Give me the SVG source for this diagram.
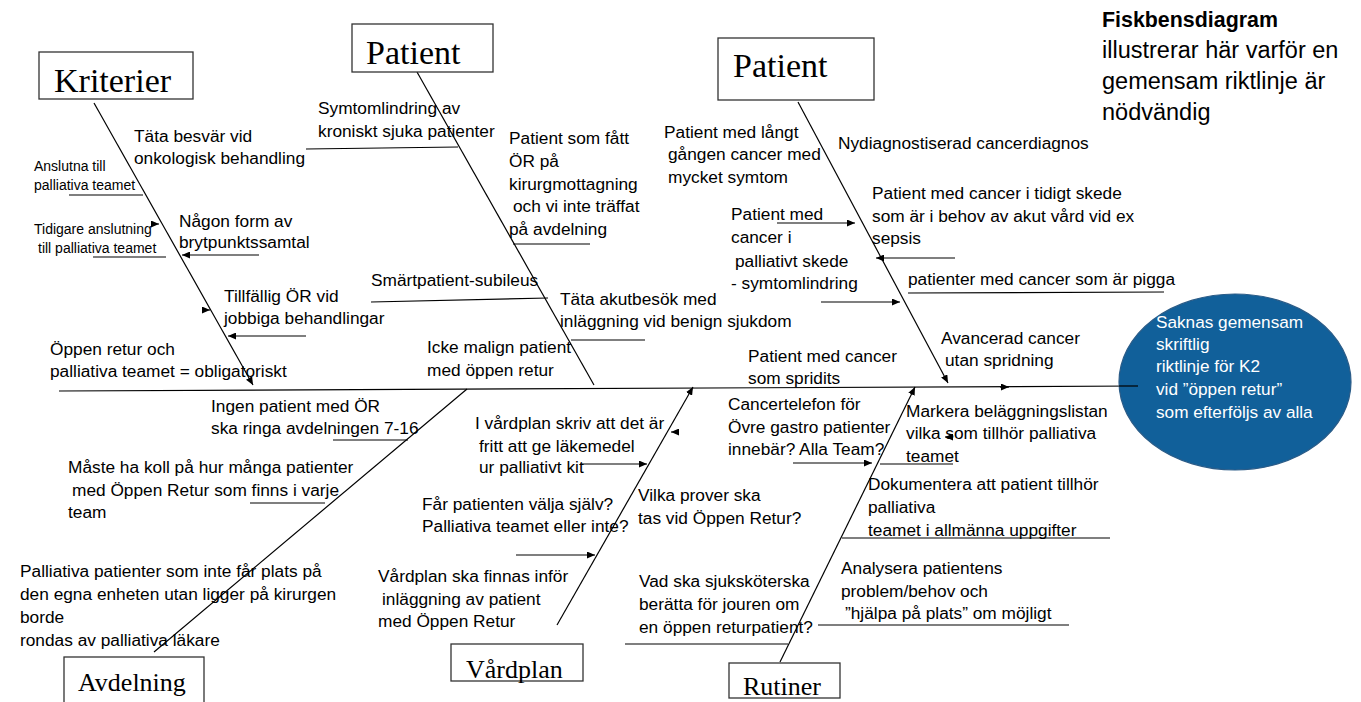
<svg xmlns="http://www.w3.org/2000/svg" width="1361" height="702" viewBox="0 0 1361 702">
<defs>
<marker id="ah" markerUnits="userSpaceOnUse" markerWidth="8" markerHeight="7" refX="8" refY="3.5" orient="auto">
<path d="M0,0 L8,3.5 L0,7 z" fill="#000"/>
</marker>
<style>
.t{font-family:"Liberation Sans",Arial,sans-serif;font-size:17.3px;fill:#000}
.s{font-family:"Liberation Sans",Arial,sans-serif;font-size:14px;fill:#000}
.w{font-family:"Liberation Sans",Arial,sans-serif;font-size:17.2px;fill:#fff}
.h{font-family:"Liberation Sans",Arial,sans-serif;font-size:23.5px;fill:#000}
.hb{font-family:"Liberation Sans",Arial,sans-serif;font-size:21.4px;font-weight:bold;fill:#000}
.b{font-family:"Liberation Serif","Times New Roman",serif;fill:#000}
.box{fill:#fff;stroke:#333;stroke-width:1.3}
.ln{stroke:#000;stroke-width:1.2;fill:none}
.ar{stroke:#000;stroke-width:1.2;fill:none;marker-end:url(#ah)}
</style>
</defs>
<rect width="1361" height="702" fill="#fff"/>

<g id="connectors">
<line class="ln" x1="59" y1="391" x2="1138" y2="386"/>
<line class="ar" x1="1000" y1="387" x2="1009" y2="387"/>
<line class="ar" x1="94" y1="103" x2="253" y2="385"/>
<line class="ln" x1="417" y1="72" x2="594" y2="385"/>
<line class="ar" x1="798" y1="102" x2="948" y2="383"/>
<line class="ln" x1="154" y1="652" x2="467" y2="389"/>
<line class="ar" x1="557" y1="625" x2="693" y2="387"/>
<line class="ar" x1="780" y1="662" x2="915" y2="387"/>
<line class="ln" x1="306" y1="149" x2="458" y2="147"/>
<line class="ln" x1="69" y1="195" x2="143" y2="195"/>
<line class="ln" x1="93" y1="257" x2="166" y2="257"/>
<line class="ar" x1="259" y1="255" x2="182" y2="255"/>
<line class="ar" x1="306" y1="336" x2="228" y2="336"/>
<line class="ar" x1="157" y1="224" x2="159" y2="224"/>
<line class="ar" x1="208" y1="310" x2="210" y2="310"/>
<line class="ln" x1="371" y1="302" x2="548" y2="298"/>
<line class="ln" x1="513" y1="244" x2="590" y2="244"/>
<line class="ln" x1="571" y1="340" x2="645" y2="340"/>
<line class="ar" x1="777" y1="223" x2="855" y2="223"/>
<line class="ar" x1="955" y1="258" x2="876" y2="258"/>
<line class="ln" x1="908" y1="293" x2="1164" y2="292"/>
<line class="ar" x1="821" y1="302" x2="900" y2="302"/>
<line class="ln" x1="333" y1="440" x2="408" y2="440"/>
<line class="ln" x1="250" y1="503" x2="325" y2="503"/>
<line class="ar" x1="580" y1="464" x2="647" y2="464"/>
<line class="ar" x1="673" y1="432" x2="671" y2="432"/>
<line class="ar" x1="516" y1="555" x2="595" y2="555"/>
<line class="ar" x1="793" y1="463" x2="872" y2="463"/>
<line class="ln" x1="880" y1="464" x2="953" y2="464"/>
<line class="ar" x1="947" y1="437" x2="945" y2="437"/>
<line class="ln" x1="842" y1="538" x2="1110" y2="538"/>
<line class="ln" x1="625" y1="644" x2="788" y2="644"/>
<line class="ln" x1="818" y1="625" x2="1069" y2="625"/>
</g>

<g id="effect">
<ellipse cx="1235" cy="382" rx="116" ry="88" fill="#11609A" stroke="#2B5C88" stroke-width="1.2"/>
<line class="ln" x1="1119" y1="386" x2="1138" y2="386"/>
<text class="w" x="1156" y="328">Saknas gemensam</text>
<text class="w" x="1156" y="350">skriftlig</text>
<text class="w" x="1156" y="372">riktlinje för K2</text>
<text class="w" x="1156" y="395">vid ”öppen retur”</text>
<text class="w" x="1156" y="418">som efterföljs av alla</text>
</g>

<g id="title">
<text class="hb" x="1102" y="27">Fiskbensdiagram</text>
<text class="h" x="1102" y="58">illustrerar här varför en</text>
<text class="h" x="1102" y="89">gemensam riktlinje är</text>
<text class="h" x="1102" y="120">nödvändig</text>
</g>

<g id="kriterier">
<rect class="box" x="39" y="52" width="154" height="47"/>
<text class="b" x="54" y="92" font-size="34">Kriterier</text>
</g>
<g id="patient1">
<rect class="box" x="352" y="24" width="141" height="48"/>
<text class="b" x="366" y="64" font-size="34">Patient</text>
</g>
<g id="patient2">
<rect class="box" x="718" y="38" width="156" height="62"/>
<text class="b" x="733" y="77" font-size="34">Patient</text>
</g>
<g id="avdelning">
<rect class="box" x="64" y="657" width="140" height="55"/>
<text class="b" x="78" y="691" font-size="26">Avdelning</text>
</g>
<g id="vardplan">
<rect class="box" x="451" y="644" width="132" height="37"/>
<text class="b" x="466" y="678" font-size="26">Vårdplan</text>
</g>
<g id="rutiner">
<rect class="box" x="729" y="663" width="111" height="35"/>
<text class="b" x="743" y="695" font-size="26">Rutiner</text>
</g>

<g id="kriterier-causes">
<text class="t" x="134" y="142">Täta besvär vid</text>
<text class="t" x="134" y="164">onkologisk behandling</text>
<text class="s" x="34" y="171">Anslutna till</text>
<text class="s" x="34" y="190">palliativa teamet</text>
<text class="s" x="34" y="234">Tidigare anslutning</text>
<text class="s" x="38" y="253">till palliativa teamet</text>
<text class="t" x="179" y="227">Någon form av</text>
<text class="t" x="179" y="248">brytpunktssamtal</text>
<text class="t" x="224" y="302">Tillfällig ÖR vid</text>
<text class="t" x="224" y="324">jobbiga behandlingar</text>
<text class="t" x="50" y="355">Öppen retur och</text>
<text class="t" x="50" y="377">palliativa teamet = obligatoriskt</text>
</g>

<g id="patient1-causes">
<text class="t" x="318" y="114">Symtomlindring av</text>
<text class="t" x="318" y="137">kroniskt sjuka patienter</text>
<text class="t" x="509" y="144">Patient som fått</text>
<text class="t" x="509" y="167">ÖR på</text>
<text class="t" x="509" y="190">kirurgmottagning</text>
<text class="t" x="513" y="212">och vi inte träffat</text>
<text class="t" x="509" y="235">på avdelning</text>
<text class="t" x="371" y="286">Smärtpatient-subileus</text>
<text class="t" x="560" y="305">Täta akutbesök med</text>
<text class="t" x="560" y="327">inläggning vid benign sjukdom</text>
<text class="t" x="427" y="353">Icke malign patient</text>
<text class="t" x="427" y="376">med öppen retur</text>
</g>

<g id="patient2-causes">
<text class="t" x="664" y="138">Patient med långt</text>
<text class="t" x="668" y="160">gången cancer med</text>
<text class="t" x="668" y="183">mycket symtom</text>
<text class="t" x="838" y="149">Nydiagnostiserad cancerdiagnos</text>
<text class="t" x="872" y="199">Patient med cancer i tidigt skede</text>
<text class="t" x="872" y="222">som är i behov av akut vård vid ex</text>
<text class="t" x="872" y="244">sepsis</text>
<text class="t" x="731" y="220">Patient med</text>
<text class="t" x="731" y="243">cancer i</text>
<text class="t" x="735" y="267">palliativt skede</text>
<text class="t" x="731" y="289">- symtomlindring</text>
<text class="t" x="908" y="285">patienter med cancer som är pigga</text>
<text class="t" x="941" y="344">Avancerad cancer</text>
<text class="t" x="945" y="366">utan spridning</text>
<text class="t" x="748" y="362">Patient med cancer</text>
<text class="t" x="748" y="384">som spridits</text>
</g>

<g id="avdelning-causes">
<text class="t" x="211" y="412">Ingen patient med ÖR</text>
<text class="t" x="211" y="434">ska ringa avdelningen 7-16</text>
<text class="t" x="68" y="473">Måste ha koll på hur många patienter</text>
<text class="t" x="72" y="496">med Öppen Retur som finns i varje</text>
<text class="t" x="68" y="518">team</text>
<text class="t" x="20" y="577">Palliativa patienter som inte får plats på</text>
<text class="t" x="20" y="600">den egna enheten utan ligger på kirurgen</text>
<text class="t" x="20" y="623">borde</text>
<text class="t" x="20" y="646">rondas av palliativa läkare</text>
</g>

<g id="vardplan-causes">
<text class="t" x="475" y="429">I vårdplan skriv att det är</text>
<text class="t" x="479" y="452">fritt att ge läkemedel</text>
<text class="t" x="479" y="473">ur palliativt kit</text>
<text class="t" x="422" y="510">Får patienten välja själv?</text>
<text class="t" x="422" y="532">Palliativa teamet eller inte?</text>
<text class="t" x="378" y="582">Vårdplan ska finnas inför</text>
<text class="t" x="382" y="605">inläggning av patient</text>
<text class="t" x="378" y="627">med Öppen Retur</text>
<text class="t" x="638" y="501">Vilka prover ska</text>
<text class="t" x="638" y="524">tas vid Öppen Retur?</text>
</g>

<g id="rutiner-causes">
<text class="t" x="728" y="410">Cancertelefon för</text>
<text class="t" x="728" y="433">Övre gastro patienter</text>
<text class="t" x="728" y="455">innebär? Alla Team?</text>
<text class="t" x="906" y="417">Markera beläggningslistan</text>
<text class="t" x="906" y="439">vilka som tillhör palliativa</text>
<text class="t" x="906" y="462">teamet</text>
<text class="t" x="868" y="490">Dokumentera att patient tillhör</text>
<text class="t" x="868" y="513">palliativa</text>
<text class="t" x="868" y="536">teamet i allmänna uppgifter</text>
<text class="t" x="639" y="587">Vad ska sjuksköterska</text>
<text class="t" x="639" y="610">berätta för jouren om</text>
<text class="t" x="639" y="633">en öppen returpatient?</text>
<text class="t" x="841" y="574">Analysera patientens</text>
<text class="t" x="841" y="597">problem/behov och</text>
<text class="t" x="845" y="619">”hjälpa på plats” om möjligt</text>
</g>
</svg>
